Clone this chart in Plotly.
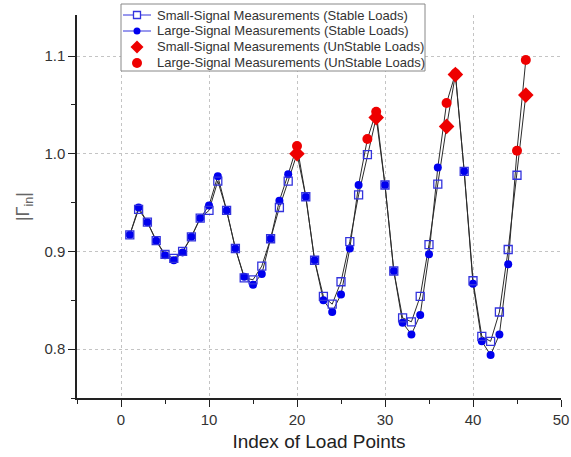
import plotly.graph_objects as go

idx = list(range(1, 47))
small = [0.917, 0.943, 0.930, 0.911, 0.897, 0.893, 0.900, 0.915, 0.934, 0.942,
         0.972, 0.942, 0.903, 0.873, 0.871, 0.885, 0.913, 0.945, 0.972, 1.000,
         0.956, 0.891, 0.854, 0.846, 0.869, 0.910, 0.958, 0.999, 1.037, 0.968,
         0.880, 0.832, 0.828, 0.854, 0.907, 0.969, 1.028, 1.081, 0.982, 0.870,
         0.813, 0.808, 0.838, 0.902, 0.978, 1.060]
large = [0.917, 0.945, 0.930, 0.911, 0.896, 0.891, 0.899, 0.915, 0.934, 0.947,
         0.977, 0.942, 0.903, 0.874, 0.866, 0.877, 0.913, 0.952, 0.979, 1.008,
         0.956, 0.891, 0.850, 0.838, 0.856, 0.903, 0.968, 1.015, 1.043, 0.968,
         0.880, 0.827, 0.815, 0.835, 0.897, 0.986, 1.052, 1.082, 0.982, 0.867,
         0.808, 0.794, 0.815, 0.887, 1.003, 1.096]
unstable_small = [20, 29, 37, 38, 46]
unstable_large = [20, 28, 29, 37, 38, 45, 46]

names = ["Small-Signal Measurements (Stable Loads)",
         "Large-Signal Measurements (Stable Loads)",
         "Small-Signal Measurements (UnStable Loads)",
         "Large-Signal Measurements (UnStable Loads)"]

BLUE = "#0000ee"
BLUE_SQ = "#3333dd"
RED = "#ee0000"

def split(vals, unstable):
    sx, sy, ux, uy = [], [], [], []
    for i, v in zip(idx, vals):
        if i in unstable:
            ux.append(i); uy.append(v)
        else:
            sx.append(i); sy.append(v)
    return sx, sy, ux, uy

ssx, ssy, sux, suy = split(small, unstable_small)
lsx, lsy, lux, luy = split(large, unstable_large)

fig = go.Figure()
line_col = "#2b2b2b"
fig.add_trace(go.Scatter(x=idx, y=small, mode="lines", line=dict(color=line_col, width=1),
                         showlegend=False, hoverinfo="skip"))
fig.add_trace(go.Scatter(x=idx, y=large, mode="lines", line=dict(color=line_col, width=1),
                         showlegend=False, hoverinfo="skip"))
fig.add_trace(go.Scatter(x=lsx, y=lsy, mode="markers", name=names[1], showlegend=False,
                         marker=dict(symbol="circle", size=8, color=BLUE)))
fig.add_trace(go.Scatter(x=ssx, y=ssy, mode="markers", name=names[0], showlegend=False,
                         marker=dict(symbol="square-open", size=8, color=BLUE_SQ,
                                     line=dict(width=1.3))))
fig.add_trace(go.Scatter(x=sux, y=suy, mode="markers", name=names[2], showlegend=False,
                         marker=dict(symbol="diamond", size=12, color=RED)))
fig.add_trace(go.Scatter(x=lux, y=luy, mode="markers", name=names[3], showlegend=False,
                         marker=dict(symbol="circle", size=10, color=RED)))

# ---- custom legend box (plot area: x 77..561 px, y 15..398 px) ----
L, T, W, H = 77, 15, 484, 383
def px(x): return (x - L) / W
def py(y): return (T + H - y) / H

shapes = [dict(type="rect", xref="paper", yref="paper", x0=px(121), x1=px(425),
               y0=py(71), y1=py(4), line=dict(color="#888", width=1), fillcolor="white",
               layer="above")]
annotations = []
rows = [15, 31, 47, 63]
for k, (name, ry) in enumerate(zip(names, rows)):
    annotations.append(dict(xref="paper", yref="paper", x=px(155), y=py(ry),
                            xanchor="left", yanchor="middle", showarrow=False, text=name,
                            font=dict(family="Arial, Liberation Sans", size=13, color="#333")))
    cx, cy = px(137), py(ry)
    if k < 2:
        shapes.append(dict(type="line", xref="paper", yref="paper", x0=px(123), x1=px(151),
                           y0=cy, y1=cy, line=dict(color=BLUE_SQ, width=1), layer="above"))
    if k == 0:
        shapes.append(dict(type="rect", xref="paper", yref="paper", xsizemode="pixel",
                           ysizemode="pixel", xanchor=cx, yanchor=cy, x0=-3.5, x1=3.5,
                           y0=-3.5, y1=3.5, line=dict(color=BLUE_SQ, width=1.3),
                           fillcolor="white", layer="above"))
    elif k == 1:
        shapes.append(dict(type="circle", xref="paper", yref="paper", xsizemode="pixel",
                           ysizemode="pixel", xanchor=cx, yanchor=cy, x0=-3.5, x1=3.5,
                           y0=-3.5, y1=3.5, line=dict(color=BLUE, width=0),
                           fillcolor=BLUE, layer="above"))
    elif k == 2:
        shapes.append(dict(type="path", xref="paper", yref="paper", xsizemode="pixel",
                           ysizemode="pixel", xanchor=cx, yanchor=cy,
                           path="M 0 6.5 L 6.5 0 L 0 -6.5 L -6.5 0 Z",
                           line=dict(color=RED, width=0), fillcolor=RED, layer="above"))
    else:
        shapes.append(dict(type="circle", xref="paper", yref="paper", xsizemode="pixel",
                           ysizemode="pixel", xanchor=cx, yanchor=cy, x0=-5, x1=5,
                           y0=-5, y1=5, line=dict(color=RED, width=0),
                           fillcolor=RED, layer="above"))

axis_common = dict(showline=True, linecolor="#222", linewidth=1.5, ticks="outside",
                   ticklen=7, tickwidth=1.3, tickcolor="#222", automargin=False,
                   showgrid=True, gridcolor="#c4c4c4", griddash="dot", gridwidth=1,
                   zeroline=False, tickfont=dict(family="Arial, Liberation Sans", size=15, color="#333"),
                   mirror=False)

fig.update_layout(
    width=571, height=457,
    margin=dict(l=77, r=10, t=15, b=59, autoexpand=False),
    paper_bgcolor="white", plot_bgcolor="white",
    font=dict(family="Arial, Liberation Sans", color="#222"),
    showlegend=False,
    shapes=shapes,
    annotations=annotations,
    xaxis=dict(range=[-5, 50], tickmode="array", tickvals=[0, 10, 20, 30, 40, 50],
               minor=dict(ticks="outside", ticklen=4, tickwidth=1.3, tickcolor="#222",
                          tickvals=[-5, 5, 15, 25, 35, 45], showgrid=False),
               title=dict(text="Index of Load Points", font=dict(size=19, color="#222"), standoff=8),
               **axis_common),
    yaxis=dict(range=[0.75, 1.142], tickmode="array", tickvals=[0.8, 0.9, 1.0, 1.1],
               ticktext=["0.8", "0.9", "1.0", "1.1"],
               minor=dict(ticks="outside", ticklen=4, tickwidth=1.3, tickcolor="#222",
                          tickvals=[0.75, 0.85, 0.95, 1.05], showgrid=False),
               title=dict(text="|Γ<sub>in</sub>|", font=dict(size=18, color="#666"), standoff=10),
               **axis_common),
)

fig.write_html("out.html")
